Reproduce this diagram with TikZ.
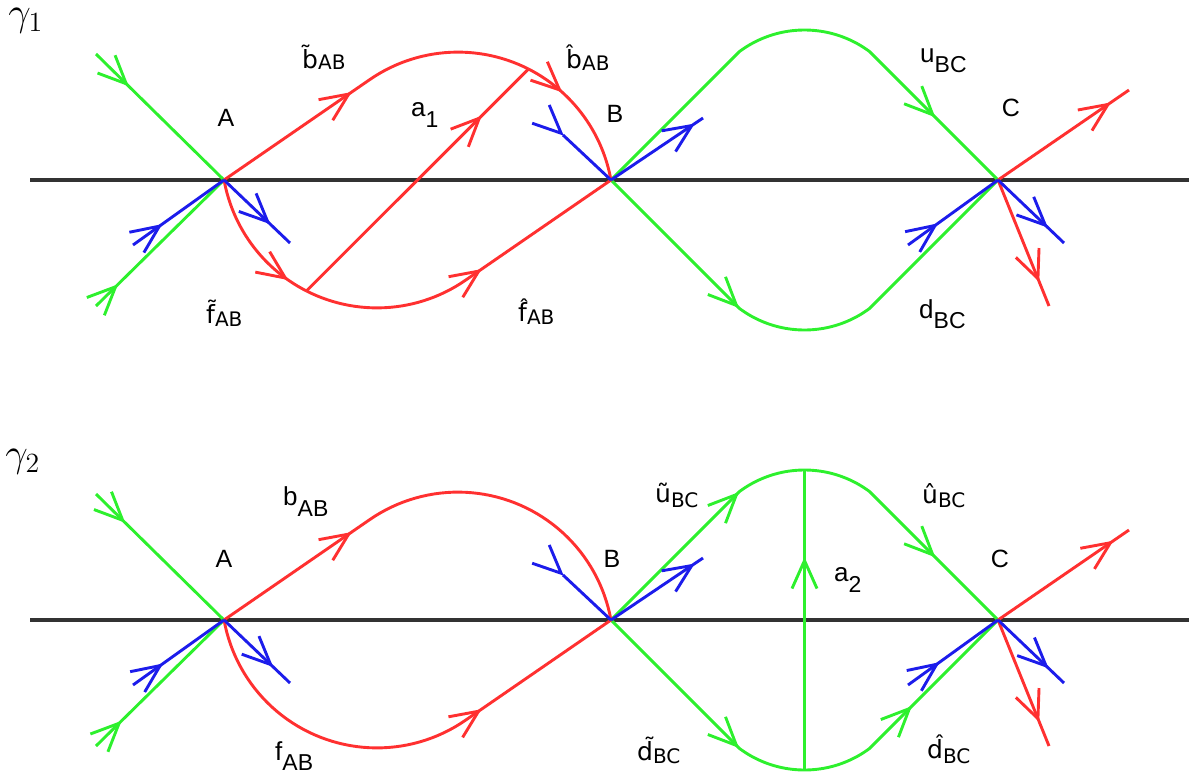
\documentclass[tikz,border=0pt]{standalone}
\usepackage{fontspec}
\setmainfont{Liberation Sans}
\newfontfamily\dejavu{DejaVu Sans}
\usetikzlibrary{arrows.meta,decorations.markings}
\definecolor{myred}{RGB}{255,48,48}
\definecolor{mygreen}{RGB}{45,240,45}
\definecolor{myblue}{RGB}{28,28,235}
\definecolor{mygray}{RGB}{50,50,50}
\newcommand\asub[2]{\raisebox{-#1pt}{\fontsize{20}{20}\selectfont #2}}
\newcommand\nsub[2]{\raisebox{-#1pt}{\fontsize{23}{23}\selectfont #2}}
\tikzset{
  hline/.style={draw=mygray, line width=3.4pt},
  rd/.style={draw=myred, line width=2.9pt},
  gr/.style={draw=mygreen, line width=2.9pt},
  bl/.style={draw=myblue, line width=2.9pt},
  tipat/.style={postaction={decorate,decoration={markings,mark=at position #1 with {\arrow{Straight Barb[length=28pt,width=25pt]}}}}},
  ptlab/.style={font=\fontsize{25}{25}\selectfont, inner sep=0pt, anchor=base},
  nlab/.style={font=\fontsize{26}{26}\selectfont, inner sep=0pt, anchor=base west},
  alab/.style={font=\fontsize{25}{25}\selectfont\dejavu, inner sep=0pt, anchor=base west},
  glab/.style={inner sep=0pt, anchor=base west, scale=1.93},
}
\begin{document}
\begin{tikzpicture}[x=1pt,y=-1pt]
\useasboundingbox (0,0) rectangle (1189,774);
% ---------------- top panel ----------------
\begin{scope}
\coordinate (Lt) at (30,180); \coordinate (Rt) at (1189,180);
\coordinate (At) at (224,180); \coordinate (Bt) at (611,180); \coordinate (Ct) at (998,180);
\coordinate (Pt) at (306.4,291.0); \coordinate (Qt) at (528.5,69.0);
\coordinate (g1t) at (96,54); \coordinate (g2t) at (96,306);
\coordinate (b1t) at (133,245); \coordinate (b2t) at (290,243);
\coordinate (b3t) at (563,135); \coordinate (b4t) at (703,118);
\coordinate (b5t) at (908,245); \coordinate (b6t) at (1064,243);
\coordinate (r5t) at (1129,90); \coordinate (r6t) at (1049,306);
\draw[hline] (Lt) -- (Rt);
\draw[gr, tipat=46pt] (g1t) -- (At);
\draw[gr, tipat=31pt] (g2t) -- (At);
\draw[gr, tipat=414pt] (Bt) -- plot[domain=233.4:306.6,samples=40,variable=\t] ({804.5+109*cos(\t)},{139+109*sin(\t)}) -- (Ct);
\draw[gr, tipat=181pt] (Bt) -- plot[domain=126.6:53.4,samples=40,variable=\t] ({804.5+109*cos(\t)},{221+109*sin(\t)}) -- (Ct);
\draw[rd, tipat=155pt] (At) -- plot[domain=235.4:297,samples=30,variable=\t] ({458+155.4*cos(\t)},{207.5+155.4*sin(\t)});
\draw[rd, tipat=41pt] plot[domain=297:349.8,samples=30,variable=\t] ({458+155.4*cos(\t)},{207.5+155.4*sin(\t)});
\draw[rd, tipat=122pt] plot[domain=169.8:117,samples=30,variable=\t] ({377+155.4*cos(\t)},{152.5+155.4*sin(\t)});
\draw[rd, tipat=187pt] plot[domain=117:55.4,samples=30,variable=\t] ({377+155.4*cos(\t)},{152.5+155.4*sin(\t)}) -- (Bt);
\draw[rd, tipat=248pt] (Pt) -- (Qt);
\draw[rd, tipat=137pt] (Ct) -- (r5t);
\draw[rd, tipat=110pt] (Ct) -- (r6t);
\draw[bl, tipat=36pt] (b1t) -- (At);
\draw[bl, tipat=64pt] (At) -- (b2t);
\draw[bl, tipat=1pt] (b3t) -- (Bt);
\draw[bl, tipat=101pt] (Bt) -- (b4t);
\draw[bl, tipat=37pt] (b5t) -- (Ct);
\draw[bl, tipat=69pt] (Ct) -- (b6t);
\end{scope}
% ---------------- bottom panel ----------------
\begin{scope}[shift={(0,440)}]
\coordinate (Lb) at (30,180); \coordinate (Rb) at (1189,180);
\coordinate (Ab) at (224,180); \coordinate (Bb) at (611,180); \coordinate (Cb) at (998,180);
\coordinate (g1b) at (96,54); \coordinate (g2b) at (96,306);
\coordinate (b1b) at (133,245); \coordinate (b2b) at (290,243);
\coordinate (b3b) at (563,135); \coordinate (b4b) at (703,118);
\coordinate (b5b) at (908,245); \coordinate (b6b) at (1064,243);
\coordinate (r5b) at (1129,90); \coordinate (r6b) at (1049,306);
\coordinate (a2s) at (804.5,330); \coordinate (a2e) at (804.5,30);
\draw[hline] (Lb) -- (Rb);
\draw[gr, tipat=41pt] (g1b) -- (Ab);
\draw[gr, tipat=36pt] (g2b) -- (Ab);
\draw[gr, tipat=181pt, tipat=414pt] (Bb) -- plot[domain=233.4:306.6,samples=40,variable=\t] ({804.5+109*cos(\t)},{139+109*sin(\t)}) -- (Cb);
\draw[gr, tipat=181pt, tipat=381pt] (Bb) -- plot[domain=126.6:53.4,samples=40,variable=\t] ({804.5+109*cos(\t)},{221+109*sin(\t)}) -- (Cb);
\draw[gr, tipat=213pt] (a2s) -- (a2e);
\draw[rd, tipat=155pt] (Ab) -- plot[domain=235.4:349.8,samples=50,variable=\t] ({458+155.4*cos(\t)},{207.5+155.4*sin(\t)});
\draw[rd, tipat=330pt] plot[domain=169.8:55.4,samples=50,variable=\t] ({377+155.4*cos(\t)},{152.5+155.4*sin(\t)}) -- (Bb);
\draw[rd, tipat=140pt] (Cb) -- (r5b);
\draw[rd, tipat=110pt] (Cb) -- (r6b);
\draw[bl, tipat=37pt] (b1b) -- (Ab);
\draw[bl, tipat=68pt] (Ab) -- (b2b);
\draw[bl, tipat=1pt] (b3b) -- (Bb);
\draw[bl, tipat=101pt] (Bb) -- (b4b);
\draw[bl, tipat=39pt] (b5b) -- (Cb);
\draw[bl, tipat=70pt] (Cb) -- (b6b);
\end{scope}
% ---------------- labels ----------------
\node[glab] (gam1) at (8,25) {\fontsize{20.74}{24}\selectfont$\gamma_1$};
\node[glab] (gam2) at (5,466) {\fontsize{20.74}{24}\selectfont$\gamma_2$};
\node[ptlab] (lA1) at (226,126) {A};
\node[ptlab] (lB1) at (615,122) {B};
\node[ptlab] (lC1) at (1011,116) {C};
\node[ptlab] (lA2) at (224,567) {A};
\node[ptlab] (lB2) at (612,567) {B};
\node[ptlab] (lC2) at (1000,567) {C};
\node[alab] (lbt) at (302,68) {b^^^^0303\asub{1}{AB}};
\node[alab] (lbh) at (566,68) {b^^^^0302\asub{2}{AB}};
\node[alab] (lft) at (206,323.5) {f^^^^0303\asub{3}{AB}};
\node[alab] (lfh) at (518,321.7) {f^^^^0302\asub{3}{AB}};
\node[nlab] (la1) at (411,116.7) {a\nsub{11}{1}};
\node[nlab] (lu1) at (920,62.7) {u\nsub{10}{BC}};
\node[nlab] (ld1) at (919,318) {d\nsub{10}{BC}};
\node[nlab] (lb2) at (283,505) {b\nsub{11}{AB}};
\node[nlab] (lf2) at (275,760) {f\nsub{10}{AB}};
\node[nlab] (la2) at (834,581.7) {a\nsub{11}{2}};
\node[alab] (lut) at (655,502) {u^^^^0303\asub{5}{BC}};
\node[alab] (ldt) at (637,760) {d^^^^0303\asub{3}{BC}};
\node[alab] (luh) at (922,503.3) {u^^^^0302\asub{4}{BC}};
\node[alab] (ldh) at (927,758.3) {d^^^^0302\asub{5}{BC}};
\end{tikzpicture}
\end{document}
